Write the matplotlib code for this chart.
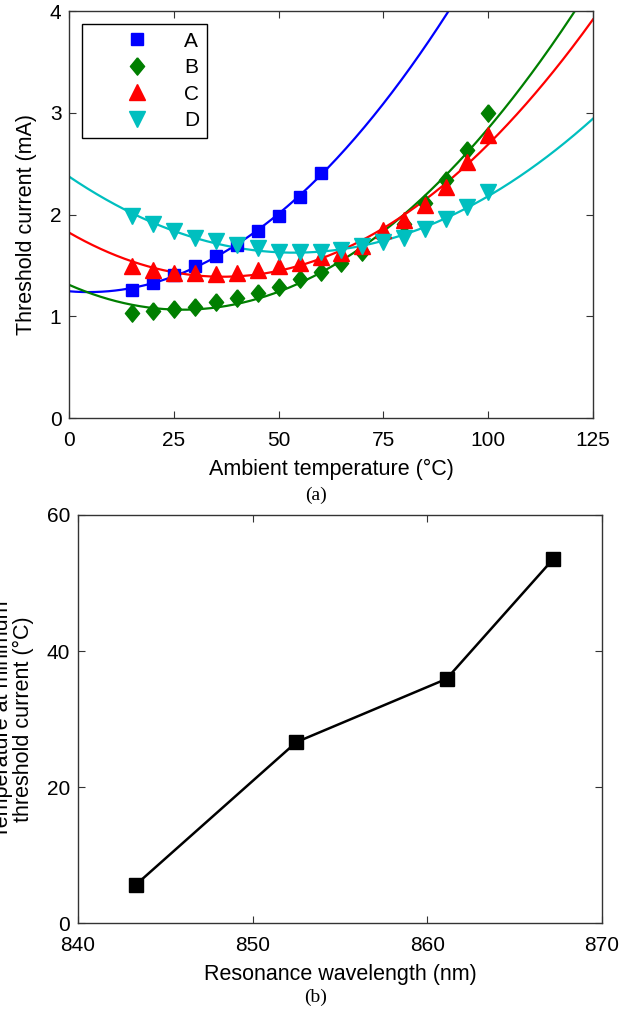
import numpy as np
import matplotlib
matplotlib.use("Agg")
import matplotlib.pyplot as plt
from matplotlib.lines import Line2D

plt.rcParams['font.family'] = ['Liberation Sans', 'DejaVu Sans']

# ---------------- data (panel a) ----------------
temp_A = [15, 20, 25, 30, 35, 40, 45, 50, 55, 60]
ith_A = [1.26, 1.33, 1.41, 1.49, 1.59, 1.70, 1.84, 1.99, 2.17, 2.41]

temp_BCD = [15, 20, 25, 30, 35, 40, 45, 50, 55, 60, 65, 70, 75, 80, 85, 90, 95, 100]
ith_B = [1.03, 1.05, 1.07, 1.09, 1.14, 1.18, 1.23, 1.29, 1.37, 1.44, 1.52, 1.63, 1.78,
         1.91, 2.11, 2.34, 2.63, 3.00]
ith_C = [1.49, 1.45, 1.43, 1.43, 1.42, 1.43, 1.45, 1.49, 1.52, 1.58, 1.62, 1.69, 1.85,
         1.95, 2.09, 2.27, 2.52, 2.78]
ith_D = [1.99, 1.91, 1.84, 1.77, 1.74, 1.70, 1.67, 1.63, 1.63, 1.63, 1.65, 1.69, 1.73,
         1.77, 1.86, 1.96, 2.07, 2.22]

labels = ['A', 'B', 'C', 'D']
colors = ['#0000ff', '#007f00', '#ff0000', '#00bfbf']
diamond = [(0, 1), (0.82, 0), (0, -1), (-0.82, 0), (0, 1)]
markers = ['s', diamond, '^', 'v']
msizes = [8.8, 12.5, 11.5, 11.5]

# ---------------- data (panel b) ----------------
wavelength = [843.3, 852.5, 861.1, 867.2]
temp_min = [5.6, 26.6, 35.9, 53.5]

fig = plt.figure(figsize=(6.32, 10.10), dpi=100)

ax1 = fig.add_axes([0.1092, 0.5861, 0.8291, 0.4030])
ax2 = fig.add_axes([0.1234, 0.0861, 0.8291, 0.4040])

FS = 15
LFS = 15.5

series = [(temp_A, ith_A), (temp_BCD, ith_B), (temp_BCD, ith_C), (temp_BCD, ith_D)]
tgrid = np.linspace(0, 125, 400)
handles = []
for (tx, ty), lab, c, m, ms in zip(series, labels, colors, markers, msizes):
    coef = np.polyfit(tx, ty, 2)
    ax1.plot(tgrid, np.polyval(coef, tgrid), color=c, lw=1.6, zorder=2)
    ax1.plot(tx, ty, linestyle='none', marker=m, ms=ms, color=c, mec=c, zorder=3)
    handles.append(Line2D([], [], linestyle='none', marker=m, ms=ms, color=c, mec=c, label=lab))

ax1.set_xlim(0, 125)
ax1.set_ylim(0, 4)
ax1.set_xticks([0, 25, 50, 75, 100, 125])
ax1.set_yticks([0, 1, 2, 3, 4])
ax1.set_xlabel('Ambient temperature (°C)', fontsize=LFS, labelpad=7)
ax1.set_ylabel('Threshold current (mA)', fontsize=LFS)
ax1.yaxis.set_label_coords(-0.061, 0.475)

leg = ax1.legend(handles=handles, loc='upper left', fontsize=FS, frameon=True,
                 fancybox=False, framealpha=1, edgecolor='black',
                 handlelength=4.5, handletextpad=0.05, labelspacing=0.36,
                 borderpad=0.37, borderaxespad=0.62)
leg.get_frame().set_linewidth(1.0)

# ---------------- panel b ----------------
ax2.plot(wavelength, temp_min, color='black', lw=1.8, marker='s', ms=9.5,
         mfc='black', mec='black')
ax2.set_xlim(840, 870)
ax2.set_ylim(0, 60)
ax2.set_xticks([840, 850, 860, 870])
ax2.set_yticks([0, 20, 40, 60])
ax2.set_xlabel('Resonance wavelength (nm)', fontsize=LFS, labelpad=7)
ax2.set_ylabel('Temperature at minimum\nthreshold current (°C)', fontsize=LFS,
               linespacing=1.0)
ax2.yaxis.set_label_coords(-0.083, 0.5)

for ax in (ax1, ax2):
    ax.tick_params(direction='in', top=True, right=True, length=5, width=0.8,
                   labelsize=FS, color='#333333')
    ax.tick_params(axis='x', pad=9)
    ax.tick_params(axis='y', pad=5.5)
    for s in ax.spines.values():
        s.set_linewidth(1.0)
        s.set_color('#333333')

fig.text(0.5, 1 - 495 / 1010, '(a)', ha='center', va='center',
         fontsize=14, family=['Liberation Serif', 'DejaVu Serif'])
fig.text(0.5, 1 - 997 / 1010, '(b)', ha='center', va='center',
         fontsize=14, family=['Liberation Serif', 'DejaVu Serif'])

fig.savefig('out.png', dpi=100)
